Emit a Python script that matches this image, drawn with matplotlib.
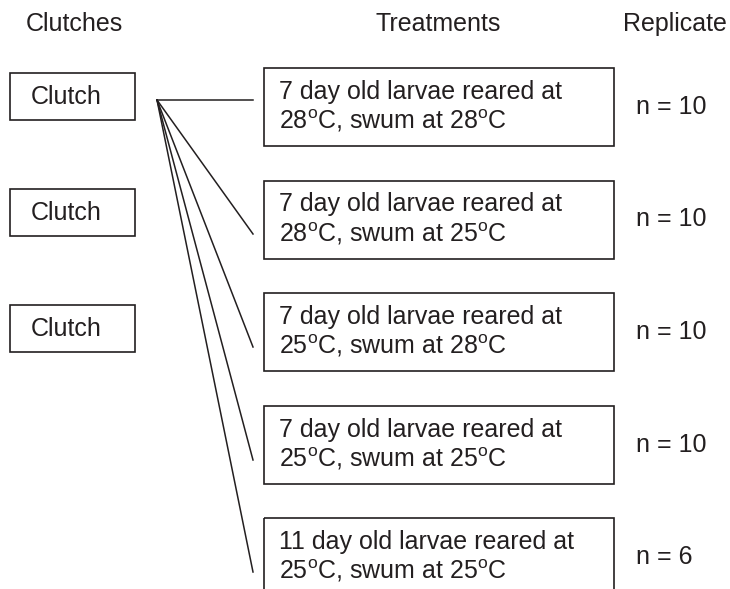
import matplotlib
matplotlib.use("Agg")
import matplotlib.pyplot as plt
from matplotlib.patches import Rectangle

plt.rcParams['font.family'] = ['Liberation Sans', 'DejaVu Sans']
plt.rcParams['mathtext.fontset'] = 'custom'
plt.rcParams['mathtext.rm'] = 'Liberation Sans'
plt.rcParams['mathtext.it'] = 'Liberation Sans:italic'

headers = ["Clutches", "Treatments", "Replicate"]
clutches = ["Clutch", "Clutch", "Clutch"]
ages = ["7", "7", "7", "7", "11"]
reared = ["28", "28", "25", "25", "25"]
swum = ["28", "25", "28", "25", "25"]
replicates = [10, 10, 10, 10, 6]

W, H = 730, 589
fig = plt.figure(figsize=(W / 100, H / 100), dpi=100)
ax = fig.add_axes([0, 0, 1, 1])
ax.set_xlim(0, W)
ax.set_ylim(H, 0)
ax.axis('off')

fs = 18
col = '#231f20'

# headers
ax.text(26, 24, headers[0], fontsize=fs, color=col, ha='left', va='center')
ax.text(438, 24, headers[1], fontsize=fs, color=col, ha='center', va='center')
ax.text(623, 24, headers[2], fontsize=fs, color=col, ha='left', va='center')

# clutch boxes
for i, c in enumerate(clutches):
    top = 73 + i * 116
    ax.add_patch(Rectangle((10, top), 125, 47, fill=False, lw=1.2, ec=col))
    ax.text(66, top + 24, c, fontsize=fs, color=col, ha='center', va='center')

# treatment boxes
origin = (157, 100)
ends = [100, 234, 347, 460, 572]
for i in range(len(ages)):
    top = 68 + i * 112.5
    ax.add_patch(Rectangle((264, top), 350, 78, fill=False, lw=1.2, ec=col,
                           clip_on=False))
    line1 = f"{ages[i]} day old larvae reared at"
    line2 = f"{reared[i]}$^{{\\rm o}}$C, swum at {swum[i]}$^{{\\rm o}}$C"
    ax.text(279, top + 24, line1, fontsize=fs, color=col, ha='left', va='center')
    ax.text(279, top + 53, line2, fontsize=fs, color=col, ha='left', va='center')
    ax.text(636, top + 39, f"n = {replicates[i]}", fontsize=fs, color=col,
            ha='left', va='center')
    ax.plot([origin[0], 253], [origin[1], ends[i]], color=col, lw=1.1)

fig.savefig("out.png", dpi=100)
